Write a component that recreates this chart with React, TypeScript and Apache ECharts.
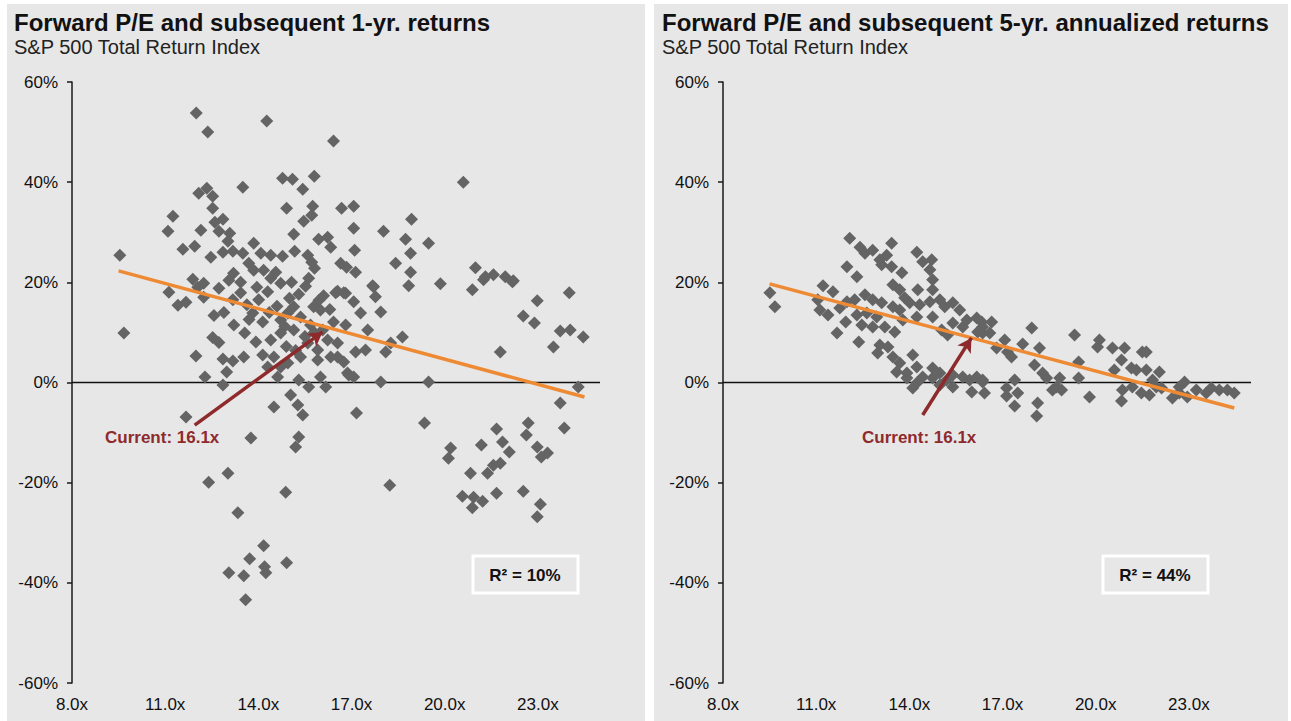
import React, { useEffect, useRef } from "react";
import * as echarts from "echarts";

const xTicks = [8, 11, 14, 17, 20, 23];
const xRange = [8, 25];
const yRange = [-60, 60];

const titles = [
  "Forward P/E and subsequent 1-yr. returns",
  "Forward P/E and subsequent 5-yr. annualized returns",
];
const subtitle = "S&P 500 Total Return Index";
const rSquared = ["R\u00b2 = 10%", "R\u00b2 = 44%"];
const currentLabel = "Current: 16.1x";

// [forward P/E, subsequent 1-yr return %]
const oneYear: [number, number][] = [
  [12.0,53.8],[14.27,52.2],[12.37,50.0],[16.42,48.2],[14.78,40.8],[15.1,40.6],[15.8,41.2],[13.5,39.0],[15.43,38.6],[12.34,38.8],
  [12.08,37.8],[12.53,37.2],[14.91,34.8],[15.75,35.2],[16.68,34.8],[17.07,35.2],[12.53,34.8],[15.72,33.4],[15.46,32.2],[11.25,33.2],
  [12.6,32.0],[12.86,32.6],[11.09,30.2],[12.15,30.4],[12.73,30.2],[13.08,29.8],[15.14,29.6],[17.07,30.8],[15.94,28.6],[16.23,29.0],
  [16.33,27.0],[13.02,28.2],[11.57,26.6],[11.95,27.2],[12.47,25.0],[12.86,26.0],[13.18,26.2],[13.5,25.8],[13.85,27.8],[14.08,25.8],
  [14.4,25.4],[14.78,25.2],[15.17,26.2],[15.59,25.4],[15.72,24.0],[15.81,22.8],[15.62,20.8],[16.65,23.8],[16.84,23.0],[17.1,26.4],
  [17.13,22.0],[9.54,25.4],[13.69,23.8],[13.85,22.4],[13.2,21.8],[13.05,20.4],[13.43,20.0],[14.17,22.4],[14.4,20.8],[14.72,19.8],
  [15.07,20.0],[14.56,22.0],[11.89,20.6],[12.24,19.8],[11.12,18.0],[12.05,19.0],[12.73,18.8],[16.55,18.2],[16.81,17.8],
  [11.41,15.4],[11.67,16.0],[9.67,9.9],[12.24,17.0],[12.57,13.4],[12.89,14.0],[12.53,9.0],[12.73,8.0],[11.99,5.3],[12.86,4.7],
  [13.18,4.3],[13.53,5.1],[12.98,2.1],[12.28,1.1],[12.86,-0.5],[13.82,13.9],[13.43,17.9],[14.3,18.1],[14.72,12.5],[14.95,13.9],
  [15.14,15.1],[15.36,13.1],[15.78,15.1],[16.0,14.5],[16.42,12.1],[16.75,17.9],[17.07,16.1],[14.4,8.5],[14.72,9.9],[15.14,10.5],
  [15.59,7.9],[15.91,6.5],[16.23,8.5],[16.55,7.9],[15.36,5.1],[15.91,4.5],[16.33,5.1],[16.75,4.1],[14.5,5.1],[14.72,3.1],
  [14.62,1.1],[14.3,3.1],[14.95,3.9],[15.3,0.5],[15.62,-0.9],[16.17,-0.9],[16.0,1.1],[16.87,1.9],[17.07,1.1],[14.5,-4.9],
  [15.04,-2.5],[15.27,-4.5],[15.43,-6.5],[15.3,-10.9],[15.2,-12.9],[13.76,-11.1],[11.67,-6.9],[17.16,-6.1],[13.02,-18.1],[12.4,-19.9],
  [14.88,-21.9],[13.34,-26.0],[14.17,-32.6],[13.72,-35.2],[14.2,-36.8],[14.24,-38.0],[14.91,-36.0],[13.05,-38.0],[13.53,-38.6],[13.59,-43.4],
  [16.49,17.9],[17.71,19.1],[17.77,17.1],[17.94,14.1],[17.29,13.9],[16.81,11.5],[17.52,10.5],[18.84,19.3],[19.86,19.7],[20.89,18.5],
  [21.25,20.5],[22.18,20.1],[22.98,16.3],[24.01,17.9],[22.53,13.3],[22.89,11.9],[23.72,10.3],[24.04,10.5],[24.46,9.1],[23.5,7.1],
  [21.79,6.1],[18.64,9.1],[18.26,7.9],[18.1,6.1],[17.45,6.5],[17.13,6.1],[16.55,5.1],[16.91,1.5],[17.94,0.1],[19.48,0.1],
  [24.3,-0.9],[23.72,-4.1],[19.35,-8.1],[21.67,-9.3],[22.69,-8.1],[22.63,-10.5],[23.85,-9.1],[20.19,-13.1],[20.12,-15.1],[21.18,-12.5],
  [21.86,-11.9],[22.08,-13.9],[22.98,-12.9],[23.11,-14.9],[23.31,-14.1],[21.79,-16.1],[21.57,-16.5],[21.38,-18.1],[20.83,-18.1],[20.57,-22.7],
  [20.93,-22.9],[20.89,-25.0],[21.22,-23.7],[21.67,-22.1],[22.53,-21.7],[23.08,-24.3],[22.98,-26.8],[18.23,-20.5],
  [20.6,40.0],[18.93,32.6],[18.03,30.2],[18.74,28.6],[19.48,27.8],[18.9,25.8],[18.42,23.8],[18.9,22.0],[17.68,19.3],[20.99,22.9],
  [21.31,21.1],[21.57,21.5],[21.95,21.1],[22.21,20.3],
  [15.52,19.2],[16.1,17.3],[14.01,16.5],[13.18,16.5],[13.63,15.5],[14.14,12.1],[13.21,11.5],[13.56,9.9],[13.92,8.1],[15.68,11.5],
  [16.07,10.5],[14.14,5.5],[14.6,15.2],[15.0,16.8],[15.3,17.6],[14.85,11.2],[15.5,9.2],[15.8,10.0],[14.35,14.0],[13.95,19.0],
  [14.9,7.2],[15.2,6.4],[13.7,12.6],[16.3,14.6],[15.95,16.4],
];

// [forward P/E, subsequent 5-yr annualized return %]
const fiveYear: [number, number][] = [
  [9.51,17.9],[9.67,15.1],[11.22,19.3],[11.54,18.1],[11.05,16.5],[11.12,14.5],[11.38,13.5],[11.76,14.9],[11.99,16.1],[12.24,16.5],
  [11.67,9.9],[11.95,12.1],[12.37,8.1],[12.31,13.5],[12.57,17.5],[12.82,16.5],[12.63,13.9],[12.47,11.5],[12.82,11.1],[13.11,15.9],
  [12.95,13.1],[13.21,11.1],[13.53,10.1],[13.05,7.5],[13.31,7.1],[12.98,5.9],[11.99,23.1],[12.31,21.1],[12.08,28.8],[12.41,27.0],
  [12.57,25.8],[12.82,26.4],[13.05,24.5],[13.27,25.4],[13.43,27.8],[13.43,23.1],[13.11,23.5],[13.76,21.9],[13.47,19.5],[13.69,18.5],
  [13.85,16.9],[13.47,15.1],[13.69,14.5],[14.01,15.9],[14.27,18.5],[14.33,15.5],[14.66,16.1],[14.98,16.5],[15.14,15.1],[15.4,15.9],
  [15.62,14.5],[14.75,13.1],[14.24,13.1],[13.79,12.5],[14.24,26.0],[14.43,24.1],[14.72,24.5],[14.66,22.5],[14.75,20.5],[14.75,18.5],
  [15.04,10.5],[15.23,9.5],[15.4,11.9],[15.72,11.1],[15.85,12.5],[16.17,12.9],[16.36,11.1],[16.65,12.1],[16.2,10.1],[16.59,9.9],
  [16.81,6.9],[13.47,5.1],[13.69,3.9],[13.59,2.1],[14.11,5.5],[13.92,1.9],[14.24,3.1],[14.43,1.1],[14.75,2.9],[14.75,0.9],
  [14.98,1.9],[14.24,-0.1],[13.92,0.9],[14.11,-1.1],[15.2,0.5],[15.4,1.5],[15.72,1.1],[15.94,0.5],[16.17,1.1],[16.36,0.1],
  [15.4,-0.9],[16.01,-1.9],[16.42,-2.1],[14.98,-0.5],
  [16.33,12.1],[16.36,9.9],[17.07,8.5],[17.16,6.1],[17.29,5.1],[17.65,7.7],[17.94,10.9],[18.19,6.9],[18.03,3.5],[18.29,1.9],
  [18.42,0.9],[18.84,0.9],[18.74,-0.9],[18.61,-1.5],[18.9,-1.5],[17.39,0.5],[17.13,-1.1],[17.49,-2.1],[17.13,-2.7],[16.36,0.5],
  [17.39,-4.7],[18.13,-4.1],[18.1,-6.7],[19.32,9.5],[19.45,4.1],[19.45,0.9],[19.8,-2.9],[20.12,8.5],[20.06,7.1],[20.54,6.9],
  [20.83,4.5],[20.93,6.9],[20.6,2.5],[21.15,2.9],[21.31,2.5],[21.5,6.1],[21.63,6.1],[21.63,2.5],[22.05,2.1],[20.86,-1.5],
  [20.83,-3.7],[21.18,-0.9],[21.47,-2.1],[21.83,0.5],[21.73,-2.5],[21.95,-0.9],[22.12,-1.1],[22.47,-3.1],[22.69,-0.9],[22.86,0.1],
  [22.95,-2.9],[23.24,-1.5],[23.56,-2.1],[23.72,-1.1],[23.98,-1.5],[24.24,-1.5],[24.46,-2.1],[22.69,-2.1],
];

// regression line end points [P/E, return %]
const trend1: [number, number][] = [[9.5, 22.3], [24.5, -2.9]];
const trend5: [number, number][] = [[9.5, 19.7], [24.46, -5.1]];
// "Current" arrow: [start, tip]
const arrow1: [number, number][] = [[11.95, -8.5], [16.07, 10.1]];
const arrow5: [number, number][] = [[14.43, -6.5], [16.0, 8.9]];

const FONT = '"Liberation Sans", Arial, sans-serif';
const DOT = "#646464";
const ORANGE = "#EE8A33";
const RED = "#8E2A2C";
const PANEL = "#e7e7e7";

export default function App() {
  const ref = useRef<HTMLDivElement>(null);
  useEffect(() => {
    if (!ref.current) return;
    const chart = echarts.init(ref.current, null, { renderer: "svg" });
    const grids = [
      { left: 72, top: 82, width: 528, height: 601 },
      { left: 723, top: 82, width: 528, height: 601 },
    ];
    const scatters = [oneYear, fiveYear];
    const trends = [trend1, trend5];
    const arrows = [arrow1, arrow5];
    const panelX = [7, 654];
    const titleX = [14, 662];
    const rBox = [473, 1103];
    const curX = [105, 862];

    const graphic: any[] = [];
    [0, 1].forEach((i) => {
      graphic.push({
        type: "rect", z: -10, silent: true,
        shape: { x: panelX[i], y: 4, width: i === 0 ? 638 : 634, height: 717 },
        style: { fill: PANEL },
      });
      graphic.push({
        type: "text", x: titleX[i], y: 10, z: 10,
        style: { text: titles[i], font: `bold 24px ${FONT}`, fill: "#111", textVerticalAlign: "top" },
      });
      graphic.push({
        type: "text", x: titleX[i], y: 37, z: 10,
        style: { text: subtitle, font: `20px ${FONT}`, fill: "#222", textVerticalAlign: "top" },
      });
      graphic.push({
        type: "rect", z: 10,
        shape: { x: rBox[i], y: 556, width: 105, height: 37 },
        style: { fill: "none", stroke: "#ffffff", lineWidth: 3 },
      });
      graphic.push({
        type: "text", x: rBox[i] + 52, y: 575, z: 10,
        style: { text: rSquared[i], font: `bold 17px ${FONT}`, fill: "#111", textAlign: "center", textVerticalAlign: "middle" },
      });
      graphic.push({
        type: "text", x: curX[i], y: 437, z: 10,
        style: { text: currentLabel, font: `bold 17px ${FONT}`, fill: RED, textVerticalAlign: "middle" },
      });
    });

    const series: any[] = [];
    [0, 1].forEach((i) => {
      series.push({
        type: "line", xAxisIndex: i, yAxisIndex: i, z: 1,
        data: [[xRange[0], 0], [xRange[1], 0]],
        symbol: "none", silent: true,
        lineStyle: { color: "#111", width: 1.5 },
      });
      series.push({
        type: "scatter", xAxisIndex: i, yAxisIndex: i, z: 2,
        data: scatters[i], symbol: "diamond", symbolSize: 13,
        itemStyle: { color: DOT, opacity: 1 },
      });
      series.push({
        type: "line", xAxisIndex: i, yAxisIndex: i, z: 3,
        data: trends[i], symbol: "none", silent: true,
        lineStyle: { color: ORANGE, width: 3.5 },
        markLine: {
          silent: true, symbol: ["none", "arrow"], symbolSize: [12, 14],
          label: { show: false },
          lineStyle: { color: RED, width: 3.5, type: "solid" },
          data: [[{ coord: arrows[i][0] }, { coord: arrows[i][1] }]],
        },
      });
    });

    chart.setOption({
      animation: false,
      backgroundColor: "#ffffff",
      textStyle: { fontFamily: FONT },
      graphic,
      grid: grids,
      xAxis: [0, 1].map((i) => ({
        type: "value", gridIndex: i, min: xRange[0], max: xRange[1],
        axisLine: { show: false, onZero: false },
        axisTick: { show: false },
        splitLine: { show: false },
        axisLabel: {
          customValues: xTicks,
          formatter: (v: number) => v.toFixed(1) + "x",
          color: "#111", fontSize: 17, margin: 13, fontFamily: FONT,
        },
      })),
      yAxis: [0, 1].map((i) => ({
        type: "value", gridIndex: i, min: yRange[0], max: yRange[1], interval: 20,
        axisLine: { show: true, onZero: false, lineStyle: { color: "#1a1a1a", width: 1.5 } },
        axisTick: { show: true, length: 5, lineStyle: { color: "#1a1a1a", width: 1.5 } },
        splitLine: { show: false },
        axisLabel: { formatter: "{value}%", color: "#111", fontSize: 17, margin: 14, fontFamily: FONT },
      })),
      series,
    });
    return () => chart.dispose();
  }, []);
  return (
    <div
      ref={ref}
      style={{ position: "fixed", left: 0, top: 0, width: 1291, height: 721, background: "#fff" }}
    />
  );
}
